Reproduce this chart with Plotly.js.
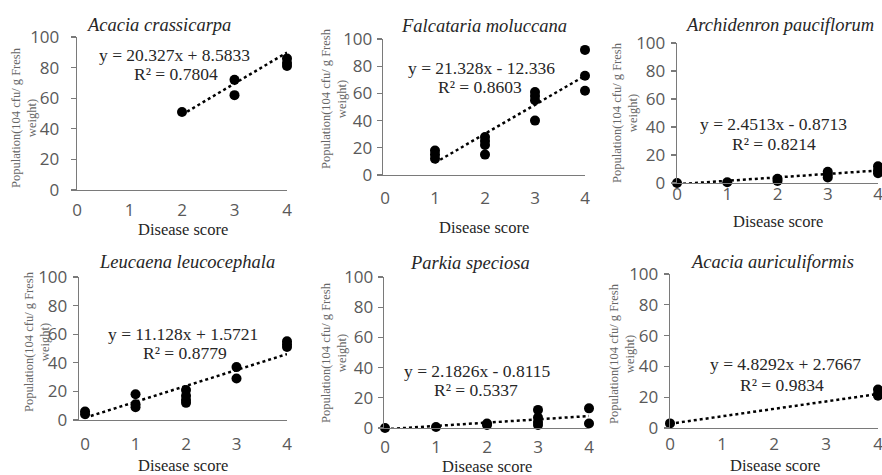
<!DOCTYPE html>
<html>
<head>
<meta charset="utf-8">
<script src="https://cdn.plot.ly/plotly-3.0.1.min.js"></script>
<style>html,body{margin:0;padding:0;background:#fff;}#chart{width:882px;height:475px;}</style>
</head>
<body>
<div id="chart"></div>
<script>
// ---------- DATA ----------
const speciesNames = ["Acacia crassicarpa", "Falcataria moluccana", "Archidenron pauciflorum",
                      "Leucaena leucocephala", "Parkia speciosa", "Acacia auriculiformis"];

const scoreAcaciaCrassicarpa = [2, 3, 3, 4, 4, 4];
const popAcaciaCrassicarpa   = [51, 72, 62, 86, 83, 81];

const scoreFalcataria = [1, 1, 1, 2, 2, 2, 2, 3, 3, 3, 3, 4, 4, 4];
const popFalcataria   = [18, 15, 12, 28, 25, 22, 15, 61, 58, 55, 40, 92, 73, 62];

const scoreArchidenron = [0, 1, 2, 2, 3, 3, 3, 4, 4, 4];
const popArchidenron   = [0, 0.5, 1.5, 3, 8, 6, 4, 12, 9, 7];

const scoreLeucaena = [0, 0, 1, 1, 1, 2, 2, 2, 2, 3, 3, 4, 4, 4];
const popLeucaena   = [6, 4, 18, 11, 9, 21, 17, 14, 12, 37, 29, 55, 53, 51];

const scoreParkia = [0, 1, 2, 2, 3, 3, 3, 3, 4, 4];
const popParkia   = [0, 0.7, 3, 2, 12, 7, 4, 2, 13, 3];

const scoreAuriculiformis = [0, 4, 4, 4];
const popAuriculiformis   = [3, 25, 22, 21];

// linear trend lines as printed on the chart
const trendSlope     = [20.327, 21.328, 2.4513, 11.128, 2.1826, 4.8292];
const trendIntercept = [8.5833, -12.336, -0.8713, 1.5721, -0.8115, 2.7667];
const trendFrom      = [2, 1, 0, 0, 0, 0];
const trendTo        = [4, 4, 4, 4, 4, 4];
const equationText = ["y = 20.327x + 8.5833", "y = 21.328x - 12.336", "y = 2.4513x - 0.8713",
                      "y = 11.128x + 1.5721", "y = 2.1826x - 0.8115", "y = 4.8292x + 2.7667"];
const r2Text = ["R² = 0.7804", "R² = 0.8603", "R² = 0.8214", "R² = 0.8779", "R² = 0.5337", "R² = 0.9834"];

const xTickVals = [0, 1, 2, 3, 4];
const yTickVals = [0, 20, 40, 60, 80, 100];
const xTitle = "Disease score";
const yTitle = "Population(104 cfu/ g Fresh<br>weight)";

const scores = [scoreAcaciaCrassicarpa, scoreFalcataria, scoreArchidenron, scoreLeucaena, scoreParkia, scoreAuriculiformis];
const pops = [popAcaciaCrassicarpa, popFalcataria, popArchidenron, popLeucaena, popParkia, popAuriculiformis];

// ---------- LAYOUT (pixel geometry) ----------
const W = 882, H = 475;
// [xLeft, xRight, yTop, yBottom, xRangeMin, xLabelStandoff, yLabelStandoff]
const boxes = [
  [77, 287, 37, 190, 0, 4, 8],
  [383, 585, 39, 175, -0.04, 7, 1],
  [677, 878, 43, 183, 0, -5, 2],
  [79, 287, 277, 420, -0.12, 8, 2],
  [384, 589, 277, 428, -0.02, 3, 1],
  [670, 878, 274, 428, 0, 0, 2]
];
// annotation centres in px: title, eq, r2, xTitle, yTitle
const titlePos = [[158, 25], [484, 26], [779, 25], [187, 262], [470, 263], [772, 262]];
const eqPos    = [[174, 55], [481, 68], [773, 124], [183, 334], [477, 371], [785, 364]];
const r2Pos    = [[176, 74], [480, 87], [774, 144], [185, 353], [476, 390], [782, 385]];
const xtPos    = [[183, 230], [484, 227], [778, 221], [183, 465], [487, 466], [775, 465]];
const ytPos    = [[24, 118], [334, 99], [625, 113], [37, 342], [334, 353], [622, 354]];

const axisGray = "#7a7a7a";
const tickFont = {family: "Open Sans, sans-serif", size: 17, color: "#595959"};
const serif = "Liberation Serif, Times New Roman, serif";

const fx = p => p / W;
const fy = p => 1 - p / H;

const data = [];
const layout = {
  width: W, height: H,
  margin: {l: 0, r: 0, t: 0, b: 0},
  paper_bgcolor: "#ffffff", plot_bgcolor: "rgba(0,0,0,0)",
  showlegend: false,
  annotations: []
};

for (let i = 0; i < 6; i++) {
  const n = i === 0 ? "" : String(i + 1);
  const b = boxes[i];
  // scatter points
  data.push({
    type: "scatter", mode: "markers",
    x: scores[i], y: pops[i],
    xaxis: "x" + n, yaxis: "y" + n,
    marker: {color: "#000000", size: 10},
    cliponaxis: false, hoverinfo: "x+y"
  });
  // trend line (from printed equation)
  const tx = [trendFrom[i], trendTo[i]];
  const ty = tx.map(v => trendSlope[i] * v + trendIntercept[i]);
  data.push({
    type: "scatter", mode: "lines",
    x: tx, y: ty,
    xaxis: "x" + n, yaxis: "y" + n,
    line: {color: "#000000", width: 2.5, dash: "dot"},
    cliponaxis: false, hoverinfo: "skip"
  });

  layout["xaxis" + n] = {
    domain: [fx(b[0]), fx(b[1])], anchor: "y" + n,
    range: [b[4], 4], tickvals: xTickVals, ticks: "",
    showline: true, linecolor: axisGray, linewidth: 1.3,
    showgrid: false, zeroline: false, tickfont: tickFont,
    ticklabelstandoff: b[5], ticklabeloverflow: "allow", fixedrange: true
  };
  layout["yaxis" + n] = {
    domain: [fy(b[3]), fy(b[2])], anchor: "x" + n,
    range: [0, 100], tickvals: yTickVals, ticks: "outside", ticklen: 5,
    tickcolor: axisGray, tickwidth: 1.3,
    showline: true, linecolor: axisGray, linewidth: 1.3,
    showgrid: false, zeroline: false, tickfont: tickFont,
    ticklabelstandoff: b[6], ticklabeloverflow: "allow", fixedrange: true
  };

  const ann = (pos, text, font, extra) => Object.assign({
    xref: "paper", yref: "paper", x: fx(pos[0]), y: fy(pos[1]),
    xanchor: "center", yanchor: "middle", showarrow: false, text: text, font: font
  }, extra || {});

  layout.annotations.push(ann(titlePos[i], "<i>" + speciesNames[i] + "</i>", {family: serif, size: 18.5, color: "#262626"}));
  layout.annotations.push(ann(eqPos[i], equationText[i], {family: serif, size: 17.5, color: "#262626"}));
  layout.annotations.push(ann(r2Pos[i], r2Text[i], {family: serif, size: 17.5, color: "#262626"}));
  layout.annotations.push(ann(xtPos[i], xTitle, {family: serif, size: 16.5, color: "#262626"}));
  layout.annotations.push(ann(ytPos[i], yTitle, {family: serif, size: 12.5, color: "#666666"}, {textangle: -90}));
}

Plotly.newPlot("chart", data, layout, {displayModeBar: false, staticPlot: true});
</script>
</body>
</html>
